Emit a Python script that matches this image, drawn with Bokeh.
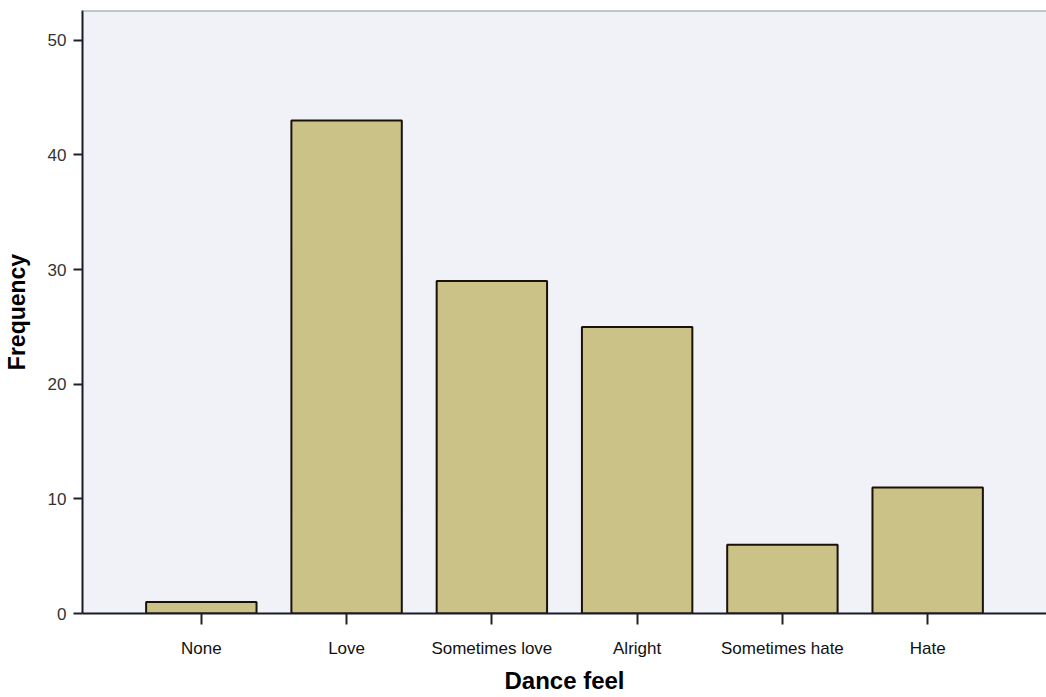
from bokeh.plotting import figure
from bokeh.models import FactorRange, Range1d, Span, FixedTicker
from bokeh.embed import file_html
from bokeh.resources import INLINE

categories = ["None", "Love", "Sometimes love", "Alright", "Sometimes hate", "Hate"]
frequency = [1, 43, 29, 25, 6, 11]
y_ticks = [0, 10, 20, 30, 40, 50]

p = figure(x_range=FactorRange(*categories, range_padding=0.318, range_padding_units="absolute"),
           y_range=Range1d(0, 52.6),
           width=1046, height=697, output_backend="svg", toolbar_location=None,
           min_border_left=81, min_border_top=10, min_border_right=0, min_border_bottom=84)

p.background_fill_color = "#f1f1f8"
p.border_fill_color = "white"
p.outline_line_color = None
p.grid.grid_line_color = None

p.vbar(x=categories, top=frequency, width=0.76, fill_color="#cbc287",
       line_color="#1a1208", line_width=2)

p.add_layout(Span(location=52.6, dimension="width", line_color="#8a9a9a", line_width=2))

p.yaxis.ticker = FixedTicker(ticks=y_ticks)
p.yaxis.minor_tick_line_color = None
p.yaxis.major_tick_out = 9
p.yaxis.major_tick_in = 0
p.yaxis.major_tick_line_color = "#222222"
p.yaxis.major_tick_line_width = 2
p.yaxis.axis_line_color = "#1a1a2a"
p.yaxis.axis_line_width = 2
p.yaxis.major_label_text_font = "Liberation Sans"
p.yaxis.major_label_text_font_size = "17px"
p.yaxis.major_label_text_color = "#333333"
p.yaxis.major_label_standoff = 7
p.yaxis.axis_label = "Frequency"
p.yaxis.axis_label_text_font = "Liberation Sans"
p.yaxis.axis_label_text_font_style = "bold"
p.yaxis.axis_label_text_font_size = "23px"
p.yaxis.axis_label_text_color = "black"
p.yaxis.axis_label_standoff = 15

p.xaxis.major_tick_out = 11
p.xaxis.major_tick_in = 0
p.xaxis.major_tick_line_color = "#222222"
p.xaxis.major_tick_line_width = 2
p.xaxis.axis_line_color = "#1a1a2a"
p.xaxis.axis_line_width = 2
p.xaxis.major_label_text_font = "Liberation Sans"
p.xaxis.major_label_text_font_size = "17px"
p.xaxis.major_label_text_color = "#111111"
p.xaxis.major_label_standoff = 14
p.xaxis.axis_label = "Dance feel"
p.xaxis.axis_label_text_font = "Liberation Sans"
p.xaxis.axis_label_text_font_style = "bold"
p.xaxis.axis_label_text_font_size = "24px"
p.xaxis.axis_label_text_color = "black"
p.xaxis.axis_label_standoff = 6

open("out.html", "w").write(file_html(p, INLINE))
